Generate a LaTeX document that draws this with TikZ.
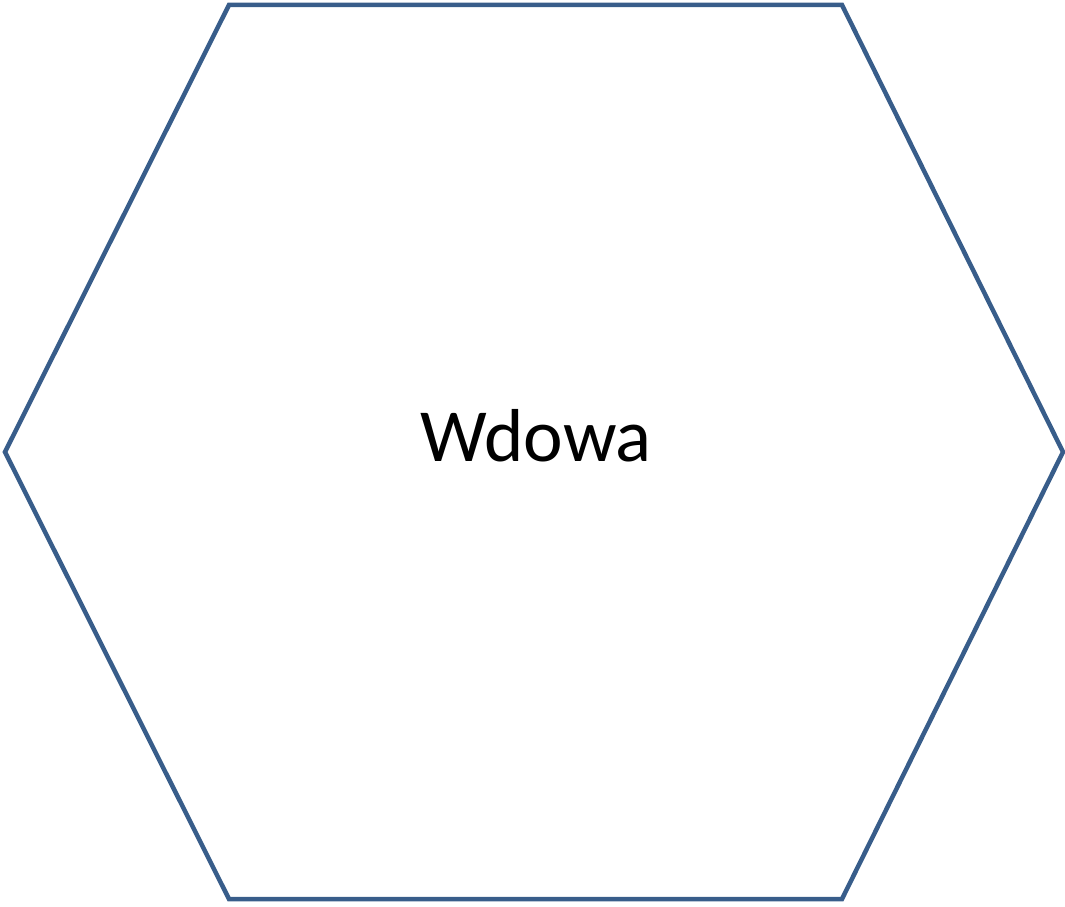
\documentclass[tikz,border=0pt]{standalone}
\usepackage{fontspec}
\setmainfont{Carlito}
\definecolor{hexblue}{HTML}{385D8A}
\tikzset{hexline/.style={draw=hexblue,line width=4.5pt,line join=miter}}
\begin{document}
\begin{tikzpicture}[x=1pt,y=1pt]
\useasboundingbox (0,0) rectangle (1065,906);
\coordinate (p1) at (229,901);
\coordinate (p2) at (842,901);
\coordinate (p3) at (1063,454);
\coordinate (p4) at (842,7);
\coordinate (p5) at (229,7);
\coordinate (p6) at (5,454);
\draw[hexline] (p1) -- (p2) -- (p3) -- (p4) -- (p5) -- (p6) -- cycle;
\node[anchor=base,inner sep=0pt,font=\fontsize{75}{85}\selectfont] (lbl) at (536,444) {Wdowa};
\end{tikzpicture}
\end{document}
